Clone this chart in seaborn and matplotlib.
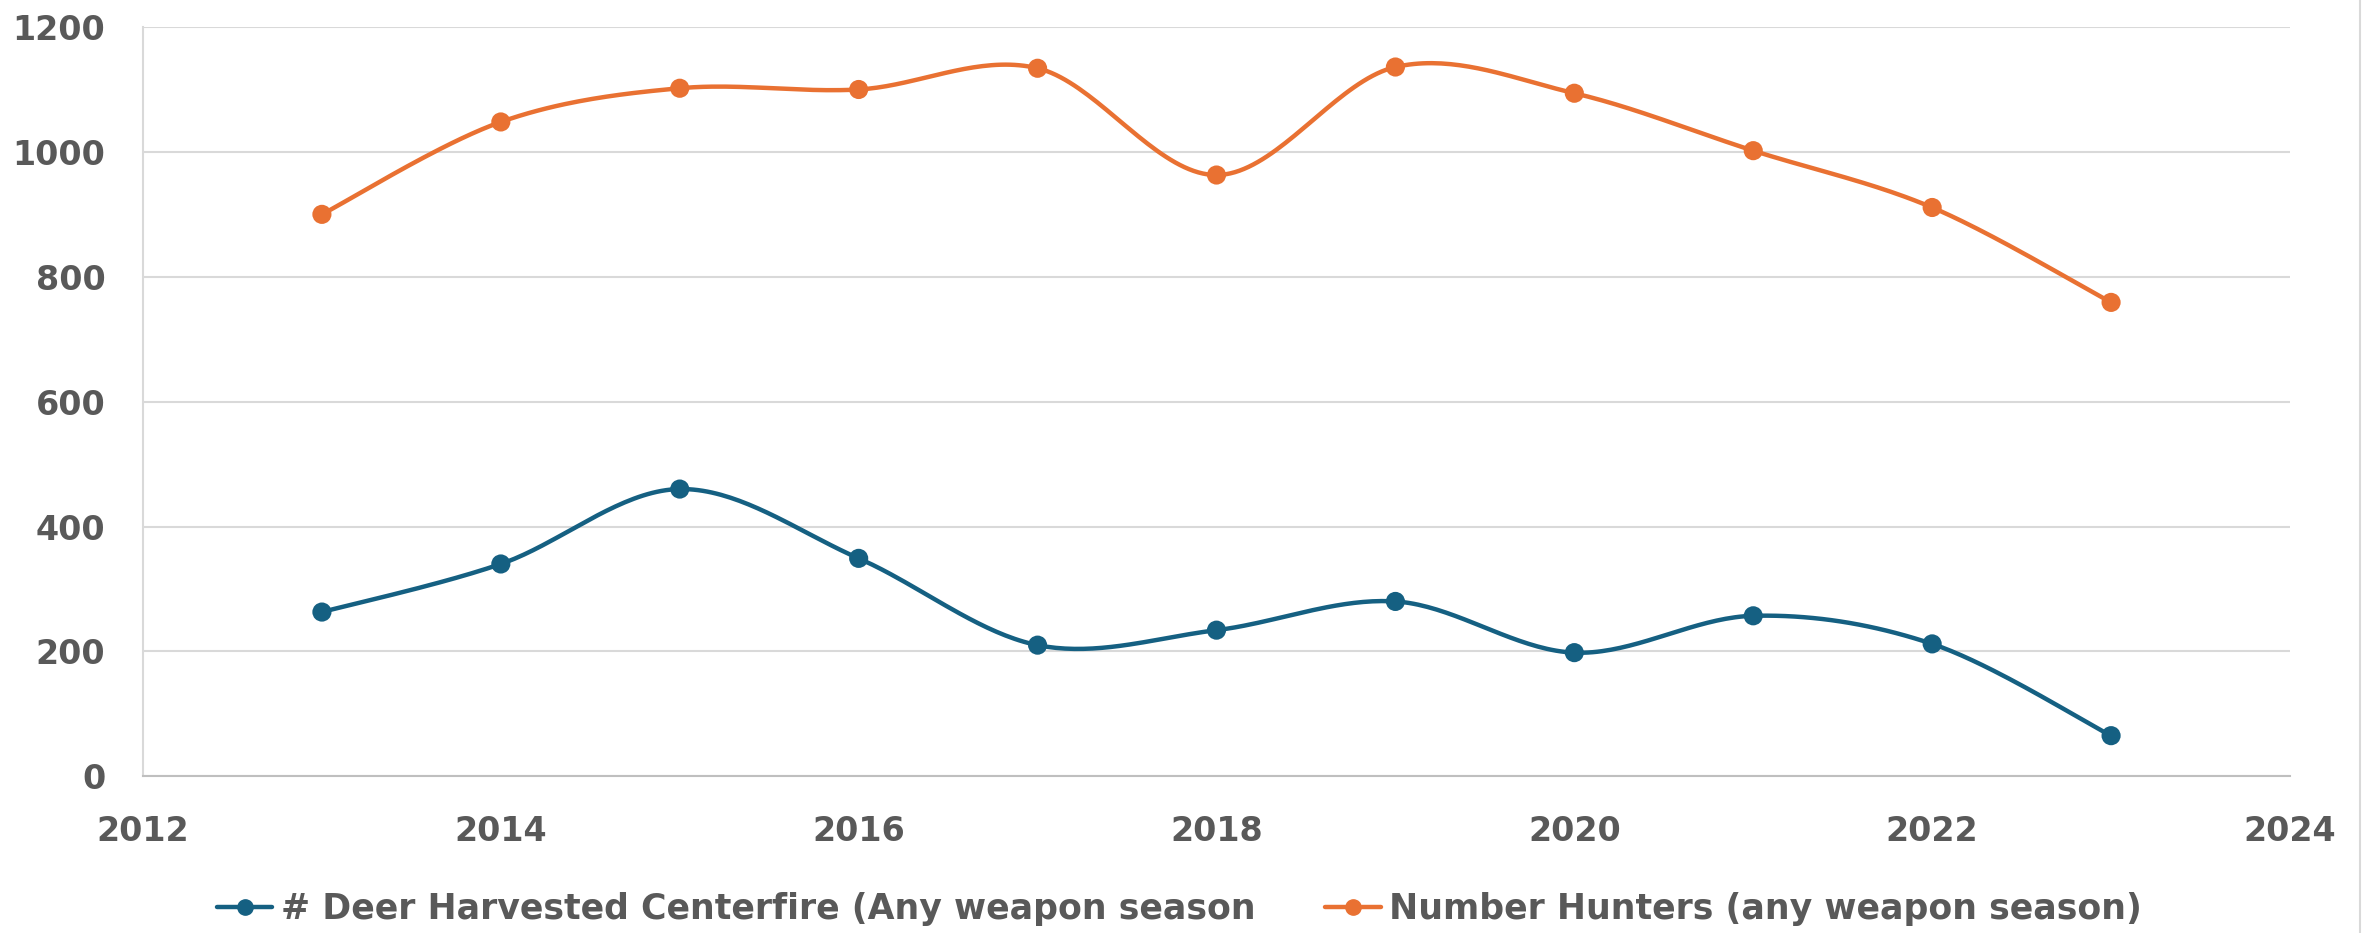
import numpy as np
import pandas as pd
import matplotlib
matplotlib.use("Agg")
import matplotlib.pyplot as plt
from matplotlib.lines import Line2D
import seaborn as sns

# data
years = [2013, 2014, 2015, 2016, 2017, 2018, 2019, 2020, 2021, 2022, 2023]
deer_harvested = [263, 340, 460, 349, 210, 234, 280, 198, 257, 212, 65]
hunters = [900, 1048, 1102, 1100, 1134, 963, 1136, 1094, 1002, 911, 759]

harvest_label = "# Deer Harvested Centerfire (Any weapon season"
hunters_label = "Number Hunters (any weapon season)"
blue = "#156082"
orange = "#E97132"
text_grey = "#595959"


def smooth_curve(x, y, n=40):
    # Excel-style smoothed line: cubic bezier between points, catmull-rom control points
    pts = np.column_stack([x, y]).astype(float)
    xs, ys = [], []
    for i in range(len(pts) - 1):
        p0 = pts[max(i - 1, 0)]
        p1 = pts[i]
        p2 = pts[i + 1]
        p3 = pts[min(i + 2, len(pts) - 1)]
        c1 = p1 + (p2 - p0) / 6
        c2 = p2 - (p3 - p1) / 6
        t = np.linspace(0, 1, n)[:, None]
        seg = ((1 - t) ** 3) * p1 + 3 * ((1 - t) ** 2) * t * c1 + 3 * (1 - t) * t ** 2 * c2 + t ** 3 * p2
        xs.extend(seg[:, 0])
        ys.extend(seg[:, 1])
    return xs, ys


sns.set_theme(style="white")
plt.rcParams["font.family"] = ["DejaVu Sans"]
plt.rcParams["font.weight"] = "bold"

fig, ax = plt.subplots(figsize=(23.64, 9.33), dpi=100)
fig.subplots_adjust(left=143 / 2364, right=2290 / 2364, bottom=0.168, top=0.971)

# build smoothed curves in long form for seaborn
frames = []
for label, vals in [(harvest_label, deer_harvested), (hunters_label, hunters)]:
    sx, sy = smooth_curve(years, vals)
    frames.append(pd.DataFrame({"year": sx, "value": sy, "series": label}))
curves = pd.concat(frames, ignore_index=True)

points = pd.concat([
    pd.DataFrame({"year": years, "value": deer_harvested, "series": harvest_label}),
    pd.DataFrame({"year": years, "value": hunters, "series": hunters_label}),
], ignore_index=True)

palette = {harvest_label: blue, hunters_label: orange}

sns.lineplot(data=curves, x="year", y="value", hue="series", palette=palette,
             linewidth=3.2, sort=False, estimator=None, legend=False, ax=ax)
sns.scatterplot(data=points, x="year", y="value", hue="series", palette=palette,
                s=190, edgecolor="none", legend=False, ax=ax, zorder=3)

ax.set_xlim(2012, 2024)
ax.set_ylim(0, 1200)
ax.set_xticks(range(2012, 2025, 2))
ax.set_yticks(range(0, 1201, 200))
ax.set_xlabel("")
ax.set_ylabel("")

ax.grid(axis="y", color="#D9D9D9", linewidth=1.5)
ax.grid(axis="x", visible=False)
ax.set_axisbelow(True)

for side in ["top", "right"]:
    ax.spines[side].set_visible(False)
ax.spines["left"].set_color("#D9D9D9")
ax.spines["left"].set_linewidth(1.5)
ax.spines["bottom"].set_color("#BFBFBF")
ax.spines["bottom"].set_linewidth(1.5)

ax.tick_params(axis="y", length=0, pad=27, labelsize=24, labelcolor=text_grey)
ax.tick_params(axis="x", length=0, pad=28, labelsize=24, labelcolor=text_grey)
for lab in ax.get_xticklabels() + ax.get_yticklabels():
    lab.set_fontweight("bold")

# legend below the plot
handles = [
    Line2D([0], [0], color=blue, linewidth=3.2, marker="o", markersize=11),
    Line2D([0], [0], color=orange, linewidth=3.2, marker="o", markersize=11),
]
fig.legend(handles, [harvest_label, hunters_label], loc="center", bbox_to_anchor=(0.499, 0.026),
           ncol=2, frameon=False, handlelength=1.6, handletextpad=0.25,
           columnspacing=2.0, labelcolor=text_grey, prop={"weight": "bold", "size": 25})

# thin chart border on the right edge
fig.add_artist(Line2D([0.9985, 0.9985], [0, 1], transform=fig.transFigure, color="#D9D9D9", linewidth=1.5))

fig.savefig("out.png", dpi=100)
